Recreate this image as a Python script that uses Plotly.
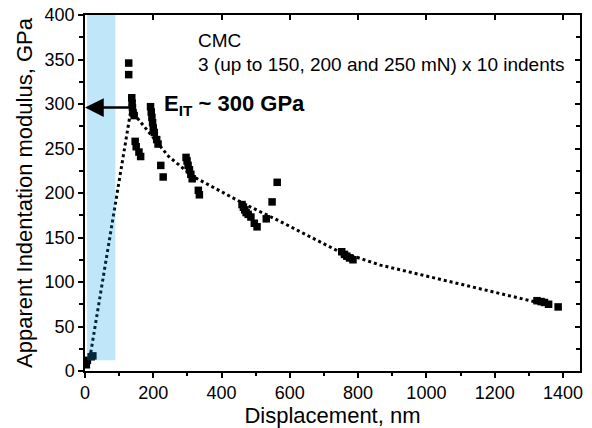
import plotly.graph_objects as go

# Measured points: displacement (nm) vs apparent indentation modulus (GPa)
displacement_nm = [4, 7, 18, 23,
                   128, 128,
                   137, 138, 139, 141, 144,
                   147, 150, 158, 163,
                   192, 194, 196, 198, 200, 203, 210, 214,
                   222, 229,
                   296, 299, 302, 306, 310, 314, 332, 335,
                   460, 464, 468, 472, 478, 486, 496, 504, 531, 548, 563,
                   752, 760, 767, 775, 785,
                   1324, 1336, 1346, 1358, 1386]
modulus_gpa = [7, 12, 16, 17,
               346, 333,
               307, 301, 296, 290, 287,
               258, 252, 246, 241,
               297, 291, 285, 279, 273, 268, 260, 255,
               231, 218,
               240, 236, 231, 226, 221, 216, 203, 198,
               187, 184, 181, 178, 176, 173, 166, 162, 171, 190, 212,
               134, 131, 129, 127, 125,
               79, 78, 77, 75, 72]

# Trend line through the data
trend_nm = [14, 133, 143, 197, 245, 319, 465, 572, 740, 865, 985, 1315, 1385]
trend_gpa = [14, 290, 289, 263, 241, 218, 188, 168, 135, 119, 108, 78, 73]

# Shallow-depth band and the extrapolated modulus
band_nm = [6, 89]
band_gpa = [12, 405]
e_it_gpa = 296
arrow_from_nm = 142

FONT = "Liberation Sans, Arial, sans-serif"
X_RANGE = [0, 1450]
Y_RANGE = [0, 400]

fig = go.Figure()

fig.add_trace(go.Scatter(
    x=trend_nm, y=trend_gpa, mode="lines",
    line=dict(color="black", width=3, dash="dot"),
    hoverinfo="skip",
))
fig.add_trace(go.Scatter(
    x=displacement_nm, y=modulus_gpa, mode="markers",
    marker=dict(symbol="square", size=7.5, color="black", line=dict(width=0)),
))
# empty traces so the mirrored tick axes are drawn
fig.add_trace(go.Scatter(x=[], y=[], xaxis="x2", yaxis="y", hoverinfo="skip"))
fig.add_trace(go.Scatter(x=[], y=[], xaxis="x", yaxis="y2", hoverinfo="skip"))

axis_common = dict(
    showgrid=False, zeroline=False, automargin=False,
    tickcolor="black", tickwidth=1.5,
)

fig.update_layout(
    width=592, height=428,
    margin=dict(l=85, r=12, t=15, b=57),
    paper_bgcolor="white", plot_bgcolor="white",
    showlegend=False,
    font=dict(family=FONT, color="black"),
    xaxis=dict(
        range=X_RANGE, tick0=0, dtick=200,
        ticks="outside", ticklen=5,
        minor=dict(dtick=100, ticks="outside", ticklen=3, tickwidth=1.5,
                   tickcolor="black", showgrid=False),
        showline=True, linecolor="black", linewidth=1.5, mirror=True,
        tickfont=dict(size=18, family=FONT, color="black"),
        title=dict(text="Displacement, nm", font=dict(size=22, family=FONT),
                   standoff=6),
        **axis_common,
    ),
    yaxis=dict(
        range=Y_RANGE, tick0=0, dtick=50,
        ticks="outside", ticklen=5,
        minor=dict(dtick=25, ticks="outside", ticklen=4, tickwidth=1.5,
                   tickcolor="black", showgrid=False),
        showline=True, linecolor="black", linewidth=1.5, mirror=True,
        tickfont=dict(size=18, family=FONT, color="black"),
        title=dict(text="Apparent Indentation modulus, GPa",
                   font=dict(size=22, family=FONT), standoff=6),
        **axis_common,
    ),
    xaxis2=dict(
        overlaying="x", side="top", anchor="y", range=X_RANGE,
        tick0=0, dtick=200, ticks="inside", ticklen=5,
        showticklabels=False, showline=False,
        **axis_common,
    ),
    yaxis2=dict(
        overlaying="y", side="right", anchor="x", range=Y_RANGE,
        tick0=0, dtick=50, ticks="inside", ticklen=5,
        minor=dict(dtick=25, ticks="inside", ticklen=4, tickwidth=1.5,
                   tickcolor="black", showgrid=False),
        showticklabels=False, showline=False,
        **axis_common,
    ),
)

fig.add_shape(
    type="rect", xref="x", yref="y",
    x0=band_nm[0], x1=band_nm[1], y0=band_gpa[0], y1=band_gpa[1],
    fillcolor="rgba(0,160,230,0.25)", line=dict(width=0), layer="above",
)

fig.add_annotation(
    x=0, y=e_it_gpa, xref="x", yref="y",
    ax=arrow_from_nm, ay=e_it_gpa, axref="x", ayref="y",
    text="", showarrow=True, arrowhead=2, arrowsize=1.5,
    arrowwidth=2.5, arrowcolor="black", standoff=0,
)
fig.add_annotation(
    x=227, y=299, xref="x", yref="y", xanchor="left", yanchor="middle",
    text="<b>E<sub>IT</sub> ~ 300 GPa</b>", showarrow=False,
    font=dict(size=22, family=FONT, color="black"),
)
fig.add_annotation(
    x=324, y=371, xref="x", yref="y", xanchor="left", yanchor="middle",
    align="left", showarrow=False, text="CMC",
    font=dict(size=19, family=FONT, color="black"),
)
fig.add_annotation(
    x=324, y=344, xref="x", yref="y", xanchor="left", yanchor="middle",
    align="left", showarrow=False,
    text="3 (up to 150, 200 and 250 mN) x 10 indents",
    font=dict(size=19, family=FONT, color="black"),
)

fig.write_html("out.html")
